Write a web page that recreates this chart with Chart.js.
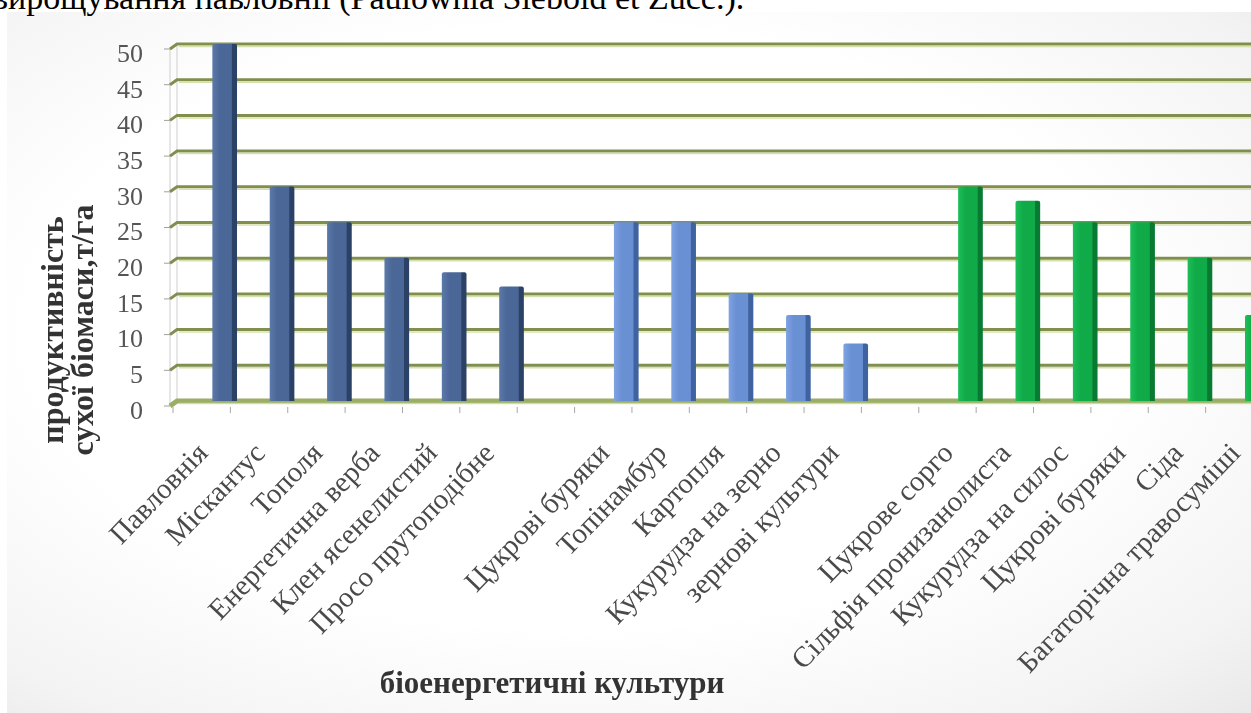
<!doctype html>
<html lang="uk">
<head>
  <meta charset="utf-8" />
  <title>Продуктивність біоенергетичних культур</title>
  <style>
    html, body { margin: 0; padding: 0; overflow: hidden; background: #fff; }
    .frame {
      position: absolute; left: 7px; top: 12px; width: 1270px; height: 701px;
      background: radial-gradient(ellipse at 45% 45%, #ffffff 55%, #f3f3f3 85%, #e8e8e8 100%);
    }
    .caption {
      position: absolute; left: -8px; top: -21px; white-space: nowrap;
      font: 34px "Liberation Serif", serif; color: #000;
    }
    .chartBox { position: absolute; left: 0; top: 0; width: 1290px; height: 713px; }
  </style>
</head>
<body>
  <div class="frame"></div>
  <div class="caption">вирощування павловнії (Paulownia Siebold et Zucc.).</div>
  <div class="chartBox">
    <canvas id="yieldChart"></canvas>
  </div>

<script src="https://cdn.jsdelivr.net/npm/chart.js@4.4.1/dist/chart.umd.min.js"></script>
<script>
  // культури (порожні підписи - проміжки між групами)
  const crops = [
    'Павловнія', 'Міскантус', 'Тополя', 'Енергетична верба', 'Клен ясенелистий', 'Просо прутоподібне',
    '',
    'Цукрові буряки', 'Топінамбур', 'Картопля', 'Кукурудза на зерно', 'зернові культури',
    '',
    'Цукрове сорго', 'Сільфія пронизанолиста', 'Кукурудза на силос', 'Цукрові буряки', 'Сіда', 'Багаторічна травосуміші'
  ];

  // продуктивність сухої біомаси, т/га
  const woodyValues  = [50, 30, 25, 20, 18, 16, null, null, null, null, null, null, null, null, null, null, null, null, null];
  const fieldValues  = [null, null, null, null, null, null, null, 25, 25, 15, 12, 8, null, null, null, null, null, null, null];
  const silageValues = [null, null, null, null, null, null, null, null, null, null, null, null, null, 30, 28, 25, 25, 20, 12];

  const yTicks = [0, 5, 10, 15, 20, 25, 30, 35, 40, 45, 50];

  const yTitle = ['продуктивність', 'сухої біомаси,т/га'];
  const xTitle = 'біоенергетичні культури';

  // front face / shaded side for each group
  const palette = {
    woody:  ['#5a78a8', '#4a6797', '#2c4166'],
    field:  ['#7ea2e2', '#6a90d4', '#3f62a0'],
    silage: ['#1cbd58', '#10ab48', '#087a31']
  };

  function barFill(colors) {
    return (context) => {
      const chart = context.chart;
      const x = chart.scales && chart.scales.x;
      if (!x || context.dataIndex === undefined) return colors[1];
      const cx = x.getPixelForValue(context.dataIndex);
      if (!isFinite(cx)) return colors[1];
      const g = chart.ctx.createLinearGradient(cx - 12, 0, cx + 12, 0);
      g.addColorStop(0, colors[0]);
      g.addColorStop(0.3, colors[1]);
      g.addColorStop(0.78, colors[1]);
      g.addColorStop(0.82, colors[2]);
      g.addColorStop(1, colors[2]);
      return g;
    };
  }

  // back wall, floor and gridlines drawn with a little depth
  const wall3d = {
    id: 'wall3d',
    beforeDatasetsDraw(chart) {
      const { ctx, chartArea, scales: { x, y } } = chart;
      const back = chartArea.left - 19;
      const front = back - 7;
      const dip = 5;
      const top = y.getPixelForValue(yTicks[yTicks.length - 1]);
      const base = y.getPixelForValue(0);
      ctx.save();
      ctx.strokeStyle = '#cfcfcf';
      ctx.lineWidth = 1;
      ctx.beginPath();
      ctx.moveTo(back, top); ctx.lineTo(back, base);
      ctx.moveTo(front, top + dip); ctx.lineTo(front, base + dip);
      ctx.stroke();

      y.ticks.forEach(t => {
        const py = y.getPixelForValue(t.value);
        const floor = t.value === 0;
        ctx.strokeStyle = '#a0a0a0';
        ctx.lineWidth = 1;
        ctx.beginPath();
        ctx.moveTo(front - 6, py + dip); ctx.lineTo(front, py + dip);
        ctx.stroke();

        ctx.strokeStyle = floor ? '#9cae66' : '#808f4e';
        ctx.lineWidth = floor ? 5 : 3;
        ctx.beginPath();
        ctx.moveTo(front, py + dip); ctx.lineTo(back, py); ctx.lineTo(chart.width, py);
        ctx.stroke();
        ctx.strokeStyle = 'rgba(210,222,160,0.9)';
        ctx.lineWidth = 1.5;
        ctx.beginPath();
        ctx.moveTo(back + 2, py + 2.5); ctx.lineTo(chart.width, py + 2.5);
        ctx.stroke();
      });

      // category separators on the front edge of the floor
      const step = x.getPixelForValue(1) - x.getPixelForValue(0);
      ctx.strokeStyle = '#a8a8a8';
      ctx.lineWidth = 1;
      ctx.beginPath();
      for (let i = 0; i <= crops.length; i++) {
        const px = x.getPixelForValue(i) - step / 2 - 23;
        ctx.moveTo(px, base + dip + 1); ctx.lineTo(px, base + dip + 7);
      }
      ctx.stroke();
      ctx.restore();
    },
    afterDraw(chart) {
      const { ctx } = chart;
      ctx.save();
      ctx.fillStyle = '#333';
      ctx.textAlign = 'center';
      ctx.textBaseline = 'middle';
      ctx.font = 'bold 32px "Liberation Serif", serif';
      ctx.translate(70, 330);
      ctx.rotate(-Math.PI / 2);
      ctx.fillText(yTitle[0], 0, -15);
      ctx.fillText(yTitle[1], 0, 15);
      ctx.restore();

      ctx.save();
      ctx.fillStyle = '#333';
      ctx.textAlign = 'center';
      ctx.textBaseline = 'middle';
      ctx.font = 'bold 31px "Liberation Serif", serif';
      ctx.fillText(xTitle, 552, 685);
      ctx.restore();
    }
  };

  const barStyle = { barThickness: 24, grouped: false, borderRadius: { topLeft: 2, topRight: 2 } };

  new Chart(document.getElementById('yieldChart'), {
    type: 'bar',
    data: {
      labels: crops,
      datasets: [
        { data: woodyValues,  backgroundColor: barFill(palette.woody),  ...barStyle },
        { data: fieldValues,  backgroundColor: barFill(palette.field),  ...barStyle },
        { data: silageValues, backgroundColor: barFill(palette.silage), ...barStyle }
      ]
    },
    options: {
      responsive: true,
      maintainAspectRatio: false,
      animation: false,
      layout: { padding: { top: 44, left: 0, right: 4, bottom: 0 } },
      plugins: { legend: { display: false }, tooltip: { enabled: false } },
      scales: {
        x: {
          grid: { display: false },
          border: { display: false },
          afterFit: (scale) => {
            scale.height = 312;
            scale.paddingLeft = 0;
            scale.paddingRight = 0;
          },
          ticks: {
            autoSkip: false,
            minRotation: 46,
            maxRotation: 46,
            padding: 28,
            labelOffset: -21,
            color: '#4a4a4a',
            font: { family: '"Liberation Serif", serif', size: 29 }
          }
        },
        y: {
          min: 0,
          max: 50,
          grid: { display: false },
          border: { display: false },
          afterFit: (scale) => {
            scale.width = 196;
            scale.paddingTop = 0;
            scale.paddingBottom = 0;
          },
          afterBuildTicks: (scale) => { scale.ticks = yTicks.map(v => ({ value: v })); },
          ticks: {
            padding: 45,
            labelOffset: 11,
            color: '#555',
            font: { family: '"Liberation Serif", serif', size: 26 }
          }
        }
      }
    },
    plugins: [wall3d]
  });
</script>
</body>
</html>
